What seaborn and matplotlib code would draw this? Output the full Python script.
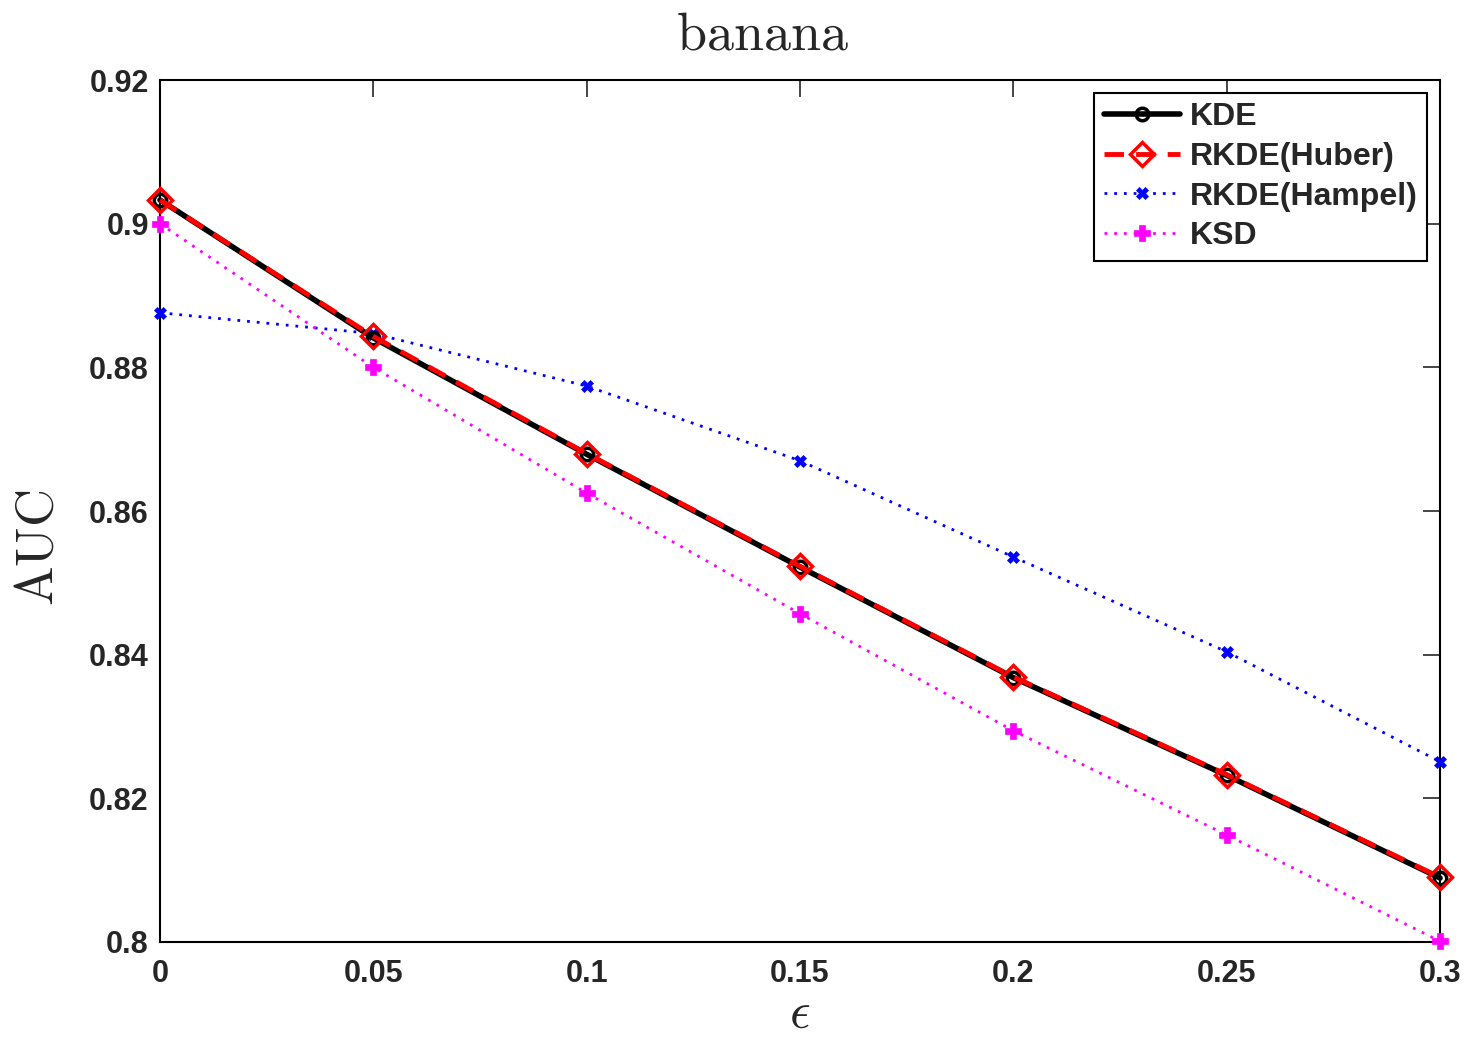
import matplotlib
matplotlib.use("Agg")
import matplotlib.pyplot as plt
import seaborn as sns
import pandas as pd

eps = [0, 0.05, 0.1, 0.15, 0.2, 0.25, 0.3]
kde = [0.9033, 0.8841, 0.8679, 0.8522, 0.8368, 0.8232, 0.8089]
rkde_huber = [0.9033, 0.8843, 0.8680, 0.8523, 0.8369, 0.8233, 0.8090]
rkde_hampel = [0.8876, 0.8847, 0.8774, 0.8670, 0.8536, 0.8404, 0.8251]
ksd = [0.9000, 0.8800, 0.8625, 0.8457, 0.8294, 0.8149, 0.8001]
series_names = ["KDE", "RKDE(Huber)", "RKDE(Hampel)", "KSD"]
xticks = [0, 0.05, 0.1, 0.15, 0.2, 0.25, 0.3]
xtick_labels = ["0", "0.05", "0.1", "0.15", "0.2", "0.25", "0.3"]
yticks = [0.8, 0.82, 0.84, 0.86, 0.88, 0.9, 0.92]
ytick_labels = ["0.8", "0.82", "0.84", "0.86", "0.88", "0.9", "0.92"]

sns.set_theme(style="white")
plt.rcParams["font.family"] = ["Liberation Sans", "DejaVu Sans"]
plt.rcParams["mathtext.fontset"] = "cm"

fig = plt.figure(figsize=(14.69, 10.38), dpi=100)
ax = fig.add_axes([0.1089, 0.0925, 0.8714, 0.8304])

styles = {
    "KDE": dict(color="black", linestyle="-", linewidth=4, marker="o", markersize=9,
                markerfacecolor="none", markeredgecolor="black", markeredgewidth=2.5),
    "RKDE(Huber)": dict(color="red", linestyle=(0, (4, 2.5)), linewidth=3.5, marker="D", markersize=12,
                        markerfacecolor="none", markeredgecolor="red", markeredgewidth=2.5),
    "RKDE(Hampel)": dict(color="blue", linestyle=(0, (1, 2.5)), linewidth=2, marker="X", markersize=9,
                         markerfacecolor="blue", markeredgecolor="blue", markeredgewidth=0.5),
    "KSD": dict(color="magenta", linestyle=(0, (1, 2.5)), linewidth=2, marker="P", markersize=12,
                markerfacecolor="magenta", markeredgecolor="magenta", markeredgewidth=0.5),
}
values = {"KDE": kde, "RKDE(Huber)": rkde_huber, "RKDE(Hampel)": rkde_hampel, "KSD": ksd}
order = ["RKDE(Hampel)", "KSD", "KDE", "RKDE(Huber)"]
for name in order:
    df = pd.DataFrame({"eps": eps, "auc": values[name]})
    sns.lineplot(data=df, x="eps", y="auc", ax=ax, label=name, clip_on=False,
                 zorder=3, **styles[name])
ax.set_xlim(0, 0.3)
ax.set_ylim(0.8, 0.92)
ax.set_xticks(xticks)
ax.set_xticklabels(xtick_labels)
ax.set_yticks(yticks)
ax.set_yticklabels(ytick_labels)
ax.tick_params(direction="in", length=12, width=1.2, top=True, right=True,
               labelsize=22, pad=8)
ax.tick_params(axis="x", pad=12)
for lab in ax.get_xticklabels() + ax.get_yticklabels():
    lab.set_fontweight("bold")
for s in ax.spines.values():
    s.set_color("black")
    s.set_linewidth(1.5)

ax.set_xlabel(r"$\epsilon$", fontsize=37)
ax.xaxis.set_label_coords(0.5, -0.055)
ax.set_ylabel(r"$\mathrm{AUC}$", fontsize=38)
ax.yaxis.set_label_coords(-0.075, 0.457)
ax.set_title(r"$\mathrm{banana}$", fontsize=39, pad=22, x=0.471)

h, l = ax.get_legend_handles_labels()
hd = dict(zip(l, h))
leg = ax.legend([hd[n] for n in series_names], series_names, loc="upper right",
                fontsize=23, frameon=True, fancybox=False, framealpha=1,
                edgecolor="black", handlelength=2.4, borderaxespad=0.4,
                handletextpad=0.3, labelspacing=0.3, borderpad=0.3)
leg.get_frame().set_linewidth(1.5)
for t in leg.get_texts():
    t.set_fontweight("bold")

fig.savefig("out.png", dpi=100)
